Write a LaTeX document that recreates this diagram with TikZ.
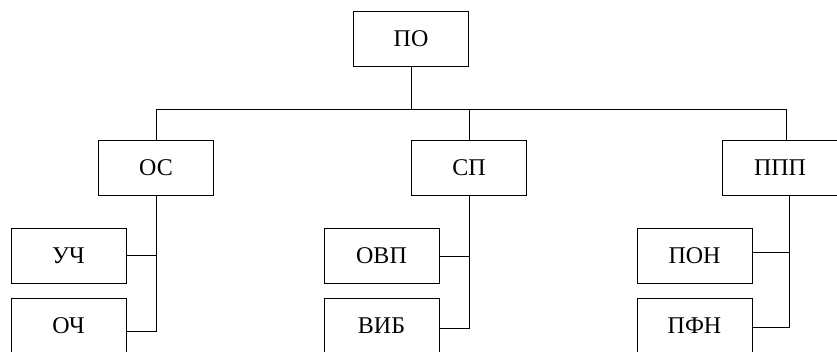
\documentclass[tikz,border=0pt]{standalone}
\usepackage{fontspec}
\setmainfont{Liberation Serif}
\begin{document}
\begin{tikzpicture}[x=1pt,y=-1pt,
  box/.style={draw, line width=0.9pt, minimum width=115pt, minimum height=55pt, inner sep=0pt, font=\fontsize{24}{26}\selectfont},
  conn/.style={line width=0.9pt}]
\useasboundingbox (0,0) rectangle (837,351);
\clip (0,0) rectangle (837,351);
\node[box] (po) at (411,38.5) {ПО};
\node[box] (os) at (156,168) {ОС};
\node[box] (sp) at (469,168) {СП};
\node[box] (ppp) at (780,168) {ППП};
\node[box] (uch) at (68.5,255.5) {УЧ};
\node[box] (och) at (68.5,325.5) {ОЧ};
\node[box] (ovp) at (381.5,255.5) {ОВП};
\node[box] (vib) at (381.5,325.5) {ВИБ};
\node[box] (pon) at (694.5,255.5) {ПОН};
\node[box] (pfn) at (694.5,325.5) {ПФН};
% bus
\coordinate (busL) at (156,109);
\coordinate (busR) at (786,109);
\coordinate (busM) at (411,109);
\draw[conn] (po.south) -- (busM);
\draw[conn] (os.north) -- (busL) -- (busR) -- (busR |- ppp.north);
\draw[conn] (sp.north) -- (sp.north |- busM);
% OS children
\coordinate (j1) at (156,331);
\draw[conn] (os.south) -- (j1) -- (j1 -| och.east);
\draw[conn] (uch.east) -- (uch.east -| j1);
% SP children
\coordinate (j2) at (469,328);
\coordinate (j2a) at (469,256);
\draw[conn] (sp.south) -- (j2) -- (j2 -| vib.east);
\draw[conn] (ovp.east |- j2a) -- (j2a);
% PPP children
\coordinate (j3) at (789,327);
\coordinate (j3a) at (789,252);
\draw[conn] (ppp.south -| j3) -- (j3) -- (j3 -| pfn.east);
\draw[conn] (pon.east |- j3a) -- (j3a);
\end{tikzpicture}
\end{document}
